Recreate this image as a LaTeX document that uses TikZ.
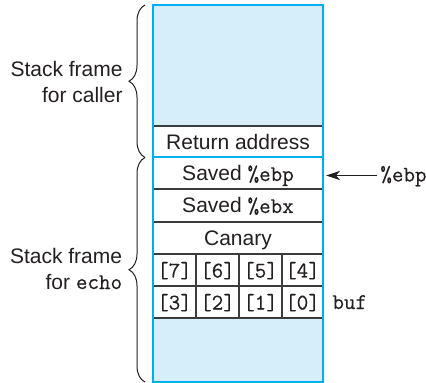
\documentclass[tikz,border=0pt]{standalone}
\usepackage{fontspec}
\setmainfont{Liberation Sans}
\newfontfamily\stackmono{Latin Modern Mono}[FakeBold=0.4]
\usetikzlibrary{decorations.pathreplacing,arrows.meta}
\definecolor{stackblue}{RGB}{0,174,239}
\definecolor{stackfill}{RGB}{214,238,250}
\definecolor{ink}{RGB}{35,31,32}
\definecolor{rule}{RGB}{60,60,60}
\newcommand{\mono}[1]{{\fontsize{11.2}{13}\selectfont\stackmono #1}}
\begin{document}
\begin{tikzpicture}[x=0.5pt,y=-0.5pt,
  txt/.style={font=\fontsize{10.5}{13}\selectfont, text=ink, inner sep=0pt},
  cell/.style={txt, anchor=base},
  sidelabel/.style={txt, align=right, anchor=east},
  rowline/.style={draw=rule, line width=0.65pt},
  frameline/.style={draw=stackblue, line width=1.1pt},
  border/.style={draw=stackblue, line width=1.2pt},
  bracestyle/.style={draw=ink, line width=0.5pt, decorate,
    decoration={brace, amplitude=8pt}},
  pointer/.style={draw=ink, line width=0.75pt, -{Stealth[length=7pt,width=4.6pt,inset=2pt]}}
]
\useasboundingbox (0,0) rectangle (426,383);
% filled regions
\fill[stackfill] (153,5) rectangle (323,126);
\fill[stackfill] (153,318) rectangle (323,382);
% row separators
\foreach \yy in {126,189,222,254,286,318}
  \draw[rowline] (153,\yy) -- (323,\yy);
\foreach \xx in {196,239,282}
  \draw[rowline] (\xx,254) -- (\xx,318);
% frame boundary
\draw[frameline] (153,157) -- (323,157);
% outer border
\draw[border] (153.2,5.3) rectangle (323.2,381.8);
% cell texts
\node[cell] (ret) at (238,149.5) {Return address};
\node[cell] (sebp) at (238,181) {Saved \mono{\%ebp}};
\node[cell] (sebx) at (238,213) {Saved \mono{\%ebx}};
\node[cell] (can) at (238,245.5) {Canary};
\node[cell] (b7) at (174.5,277.5) {\mono{[7]}};
\node[cell] (b6) at (217.5,277.5) {\mono{[6]}};
\node[cell] (b5) at (260.5,277.5) {\mono{[5]}};
\node[cell] (b4) at (302.5,277.5) {\mono{[4]}};
\node[cell] (b3) at (174.5,309.5) {\mono{[3]}};
\node[cell] (b2) at (217.5,309.5) {\mono{[2]}};
\node[cell] (b1) at (260.5,309.5) {\mono{[1]}};
\node[cell] (b0) at (302.5,309.5) {\mono{[0]}};
% right labels
\node[txt, anchor=base west, inner xsep=1.5pt] (ebplabel) at (377,181.5) {\mono{\%ebp}};
\node[txt, anchor=base west] (buf) at (332,309) {\mono{buf}};
\coordinate (ebptip) at (326,175.5);
\draw[pointer] (ebplabel.west |- ebptip) -- (ebptip);
% braces
\coordinate (bt0) at (145,157.5);
\coordinate (bt1) at (145,5);
\coordinate (bb0) at (145,382);
\coordinate (bb1) at (145,157.5);
\draw[bracestyle] (bt0) -- (bt1);
\draw[bracestyle] (bb0) -- (bb1);
% left labels
\node[sidelabel] (caller) at (123,82.5) {Stack frame\\for caller};
\node[sidelabel] (echo) at (122.5,268.5) {Stack frame\\for \mono{echo}};
\end{tikzpicture}
\end{document}
